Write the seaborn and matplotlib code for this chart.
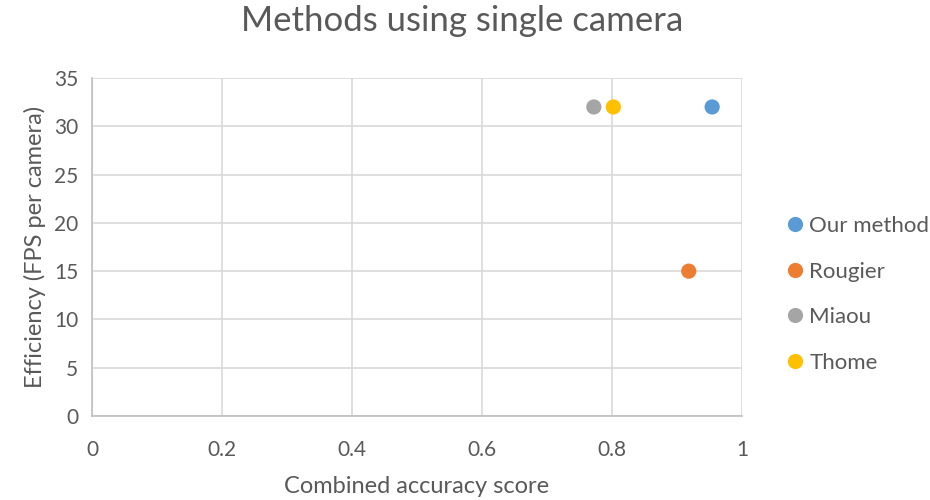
import matplotlib
matplotlib.use("Agg")
import matplotlib.pyplot as plt
import seaborn as sns
import pandas as pd

methods = ["Our method", "Rougier", "Miaou", "Thome"]
accuracy = [0.954, 0.918, 0.772, 0.802]
fps = [32, 15, 32, 32]
x_ticks = [0, 0.2, 0.4, 0.6, 0.8, 1]
y_ticks = [0, 5, 10, 15, 20, 25, 30, 35]

palette = ["#5B9BD5", "#ED7D31", "#A5A5A5", "#FFC000"]
text_color = "#595959"
grid_color = "#D9D9D9"

sns.set_theme(style="white")
plt.rcParams["font.family"] = ["Lato", "DejaVu Sans"]

df = pd.DataFrame({"method": methods, "accuracy": accuracy, "fps": fps})

fig = plt.figure(figsize=(9.3, 5.0), dpi=100)
ax = fig.add_axes([0.0989, 0.168, 0.699, 0.676])

sns.scatterplot(data=df, x="accuracy", y="fps", hue="method", hue_order=methods,
                palette=palette, s=120, edgecolor="none", ax=ax, zorder=3)

ax.set_xlim(0, 1)
ax.set_ylim(0, 35)
ax.set_xticks(x_ticks)
ax.set_xticklabels([f"{t:g}" for t in x_ticks])
ax.set_yticks(y_ticks)
ax.grid(True, color=grid_color, linewidth=1.2)
ax.set_axisbelow(True)
for side in ["top", "right"]:
    ax.spines[side].set_visible(False)
for side in ["left", "bottom"]:
    ax.spines[side].set_color("#BFBFBF")
    ax.spines[side].set_linewidth(1.2)

ax.tick_params(axis="both", colors=text_color, labelsize=15, length=0)
ax.tick_params(axis="x", pad=17)
ax.tick_params(axis="y", pad=10)

ax.set_xlabel("Combined accuracy score", fontsize=17, color=text_color, labelpad=12)
ax.set_ylabel("Efficiency (FPS per camera)", fontsize=17, color=text_color, labelpad=6)
fig.suptitle("Methods using single camera", x=0.497, y=0.99, fontsize=25, color=text_color)

handles, labels = ax.get_legend_handles_labels()
ax.legend(handles, labels, loc="center left", bbox_to_anchor=(1.03, 0.36), frameon=False,
          fontsize=16, labelcolor=text_color, labelspacing=1.15, handletextpad=0.05,
          markerscale=1.0, handlelength=1.2)

fig.savefig("out.png", dpi=100)
